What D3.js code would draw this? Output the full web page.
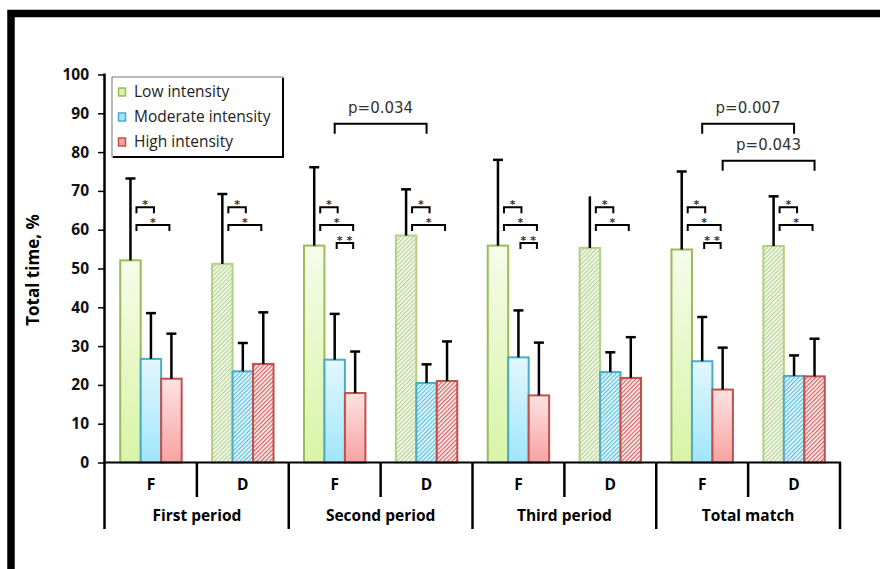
<!DOCTYPE html>
<html>
<head>
<meta charset="utf-8">
<script src="https://cdn.jsdelivr.net/npm/d3@7"></script>
<style>
  body { margin: 0; background: #fff; }
  svg { display: block; }
</style>
</head>
<body>
<div id="chart"></div>
<script>
var periods = ['First period', 'Second period', 'Third period', 'Total match'];
var roles = ['F', 'D'];
var intensities = ['Low intensity', 'Moderate intensity', 'High intensity'];

// one value per period/role cluster: FP-F, FP-D, SP-F, SP-D, TP-F, TP-D, TM-F, TM-D
var lowMean  = [52.1, 51.2, 55.9, 58.5, 55.9, 55.3, 54.9, 55.8];
var lowSD    = [21.1, 18.0, 20.2, 11.9, 22.1, 13.3, 20.1, 12.8];
var modMean  = [26.7, 23.5, 26.5, 20.5, 27.1, 23.3, 26.1, 22.3];
var modSD    = [11.8,  7.3, 11.8,  4.8, 12.1,  5.1, 11.4,  5.3];
var highMean = [21.6, 25.4, 17.9, 21.0, 17.3, 21.8, 18.8, 22.2];
var highSD   = [11.6, 13.3, 10.7, 10.2, 13.6, 10.5, 10.8,  9.7];

// pairwise tests inside each cluster: [intensity a, intensity b, label]
var withinTests = [
  [[0, 1, '*'], [0, 2, '*']],
  [[0, 1, '*'], [0, 2, '*']],
  [[0, 1, '*'], [0, 2, '*'], [1, 2, '**']],
  [[0, 1, '*'], [0, 2, '*']],
  [[0, 1, '*'], [0, 2, '*'], [1, 2, '**']],
  [[0, 1, '*'], [0, 2, '*']],
  [[0, 1, '*'], [0, 2, '*'], [1, 2, '**']],
  [[0, 1, '*'], [0, 2, '*']]
];
// F vs D tests: [period index, intensity index, label]
var betweenTests = [[1, 1, 'p=0.034'], [3, 1, 'p=0.007'], [3, 2, 'p=0.043']];

var means = [lowMean, modMean, highMean];
var sds = [lowSD, modSD, highSD];

var W = 880, H = 569;
var svg = d3.select('#chart').append('svg')
  .attr('width', W)
  .attr('height', H);

var x0 = d3.scaleBand().domain(periods).range([105, 840]);
var x1 = d3.scaleBand().domain(roles).range([0, x0.bandwidth()]);
var x2 = d3.scaleBand().domain(intensities).range([0, x1.bandwidth()]).paddingOuter(0.744);
var y  = d3.scaleLinear().domain([0, 100]).range([462.5, 74.5]);

function barLeft(c, k) {
  return x0(periods[Math.floor(c / 2)]) + x1(roles[c % 2]) + x2(intensities[k]);
}
function barCenter(c, k) { return barLeft(c, k) + x2.bandwidth() / 2; }

var strokes = ['#9bbb59', '#4bacc6', '#c0504d'];
var hatchStrokes = ['#b3cf85', '#4bacc6', '#c0504d'];
var hatchLines = ['#a8cc78', '#3ab4de', '#d44848'];
var gradTop = ['#f6fcea', '#e2f7fd', '#fde3e3'];
var gradBot = ['#d8f4a6', '#9fe6fa', '#f7a2a2'];

var defs = svg.append('defs');
intensities.forEach(function(name, k) {
  var g = defs.append('linearGradient')
    .attr('id', 'grad' + k)
    .attr('x1', 0).attr('y1', 0).attr('x2', 0).attr('y2', 1);
  g.append('stop').attr('offset', '0%').attr('stop-color', gradTop[k]);
  g.append('stop').attr('offset', '100%').attr('stop-color', gradBot[k]);

  var p = defs.append('pattern')
    .attr('id', 'hatch' + k)
    .attr('patternUnits', 'userSpaceOnUse')
    .attr('width', 3).attr('height', 3)
    .attr('patternTransform', 'rotate(45)');
  p.append('rect').attr('width', 3).attr('height', 3).attr('fill', '#fff');
  p.append('line')
    .attr('x1', 0.75).attr('y1', 0).attr('x2', 0.75).attr('y2', 3)
    .attr('stroke', hatchLines[k])
    .attr('stroke-width', 1.2);
});

// outer frame
svg.append('path')
  .attr('d', 'M11,' + H + 'V13.5H' + W)
  .attr('fill', 'none')
  .attr('stroke', '#000')
  .attr('stroke-width', 7.5);

// bars
var rows = [];
for (var c = 0; c < 8; c++) {
  for (var k = 0; k < 3; k++) {
    rows.push({c: c, k: k, mean: means[k][c], sd: sds[k][c]});
  }
}

svg.append('g').selectAll('rect')
  .data(rows)
  .enter().append('rect')
    .attr('x', function(d) { return barLeft(d.c, d.k); })
    .attr('y', function(d) { return y(d.mean); })
    .attr('width', x2.bandwidth())
    .attr('height', function(d) { return y(0) - y(d.mean); })
    .attr('fill', function(d) { return d.c % 2 === 0 ? 'url(#grad' + d.k + ')' : 'url(#hatch' + d.k + ')'; })
    .attr('stroke', function(d) { return d.c % 2 === 0 ? strokes[d.k] : hatchStrokes[d.k]; })
    .attr('stroke-width', 2);

// error bars (the third-period D low bar shows no cap in the source)
var err = svg.append('g').attr('stroke', '#000').attr('stroke-width', 2.5);
rows.forEach(function(d) {
  var cx = barCenter(d.c, d.k);
  err.append('line')
    .attr('x1', cx).attr('x2', cx)
    .attr('y1', y(d.mean)).attr('y2', y(d.mean + d.sd));
  if (d.c === 5 && d.k === 0) return;
  err.append('line')
    .attr('x1', cx - 5).attr('x2', cx + 5)
    .attr('y1', y(d.mean + d.sd)).attr('y2', y(d.mean + d.sd));
});

// significance brackets inside clusters
var sig = svg.append('g');
function bracket(xa, xb, yy, leg) {
  sig.append('path')
    .attr('d', 'M' + xa + ',' + (yy + leg) + 'V' + yy + 'H' + xb + 'V' + (yy + leg))
    .attr('fill', 'none')
    .attr('stroke', '#000')
    .attr('stroke-width', 2);
}
withinTests.forEach(function(tests, c) {
  tests.forEach(function(t, j) {
    var xa = barCenter(c, t[0]) + (t[0] === 0 ? 6 : 2);
    var xb = barCenter(c, t[1]) + (t[1] === 1 ? 3 : -2);
    var yy = y(65.8 - 4.6 * j);
    bracket(xa, xb, yy, 6);
    sig.append('text')
      .attr('x', (xa + xb) / 2 + (t[2] === '**' ? 1.5 : 0))
      .attr('y', yy + 1)
      .attr('text-anchor', 'middle')
      .style('font-family', 'DejaVu Sans')
      .style('font-weight', 'bold')
      .style('font-size', '11px')
      .style('letter-spacing', t[2] === '**' ? '4px' : '0px')
      .style('fill', '#333')
      .text(t[2]);
  });
});

// F vs D brackets
var levels = [87.3, 87.3, 77.8];
betweenTests.forEach(function(t, i) {
  var xa = barCenter(t[0] * 2, t[1]);
  var xb = barCenter(t[0] * 2 + 1, t[1]);
  var yy = y(levels[i]);
  bracket(xa, xb, yy, 10);
  sig.append('text')
    .attr('x', (xa + xb) / 2)
    .attr('y', yy - 11)
    .attr('text-anchor', 'middle')
    .style('font-family', 'DejaVu Sans')
    .style('font-size', '15px')
    .style('fill', '#333')
    .text(t[2]);
});

// y axis
var yAxis = svg.append('g')
  .attr('transform', 'translate(104,0)')
  .call(d3.axisLeft(y).tickValues(d3.range(0, 101, 10)).tickSize(6).tickPadding(9));
yAxis.select('.domain').remove();
yAxis.selectAll('.tick line').attr('stroke', '#000').attr('stroke-width', 1.5);
yAxis.selectAll('.tick text')
  .style('font-family', 'Open Sans')
  .style('font-weight', 'bold')
  .style('font-size', '15.5px')
  .style('fill', '#111');
svg.append('line')
  .attr('x1', 104.5).attr('x2', 104.5)
  .attr('y1', y(100) - 1).attr('y2', 529)
  .attr('stroke', '#000').attr('stroke-width', 2.5);

svg.append('text')
  .attr('transform', 'translate(39,270) rotate(-90)')
  .attr('text-anchor', 'middle')
  .style('font-family', 'Open Sans')
  .style('font-weight', 'bold')
  .style('font-size', '17px')
  .text('Total time, %');

// x axis with category separators
var xa = svg.append('g').attr('stroke', '#000');
xa.append('line')
  .attr('x1', 104).attr('x2', 841)
  .attr('y1', y(0)).attr('y2', y(0))
  .attr('stroke-width', 2);
periods.forEach(function(p, i) {
  var gx = x0(p);
  if (i > 0) {
    xa.append('line').attr('x1', gx).attr('x2', gx)
      .attr('y1', y(0)).attr('y2', 529).attr('stroke-width', 2.5);
  }
  var sx = gx + x1('D');
  xa.append('line').attr('x1', sx).attr('x2', sx)
    .attr('y1', y(0)).attr('y2', 497).attr('stroke-width', 2.5);
});
xa.append('line').attr('x1', 840).attr('x2', 840)
  .attr('y1', y(0)).attr('y2', 529).attr('stroke-width', 2.5);

var labels = svg.append('g')
  .style('font-family', 'Open Sans')
  .style('font-weight', 'bold')
  .style('font-size', '15.5px')
  .attr('text-anchor', 'middle');
periods.forEach(function(p) {
  roles.forEach(function(r) {
    labels.append('text')
      .attr('x', x0(p) + x1(r) + x1.bandwidth() / 2)
      .attr('y', 490)
      .text(r);
  });
  labels.append('text')
    .attr('x', x0(p) + x0.bandwidth() / 2)
    .attr('y', 521)
    .text(p);
});

// legend
var legend = svg.append('g').attr('transform', 'translate(112,77)');
legend.append('rect')
  .attr('width', 171).attr('height', 80)
  .attr('fill', '#fff')
  .attr('stroke', '#777')
  .attr('stroke-width', 1);
legend.append('path')
  .attr('d', 'M171,1V80H1')
  .attr('fill', 'none')
  .attr('stroke', '#000')
  .attr('stroke-width', 2);
intensities.forEach(function(name, k) {
  var ly = 15 + k * 25;
  legend.append('rect')
    .attr('x', 6.5).attr('y', ly - 4)
    .attr('width', 7).attr('height', 8)
    .attr('fill', gradBot[k])
    .attr('stroke', strokes[k])
    .attr('stroke-width', 1.5);
  legend.append('text')
    .attr('x', 22).attr('y', ly)
    .attr('dy', '0.35em')
    .style('font-family', 'Open Sans')
    .style('font-size', '15.5px')
    .style('fill', '#222')
    .text(name);
});
</script>
</body>
</html>
